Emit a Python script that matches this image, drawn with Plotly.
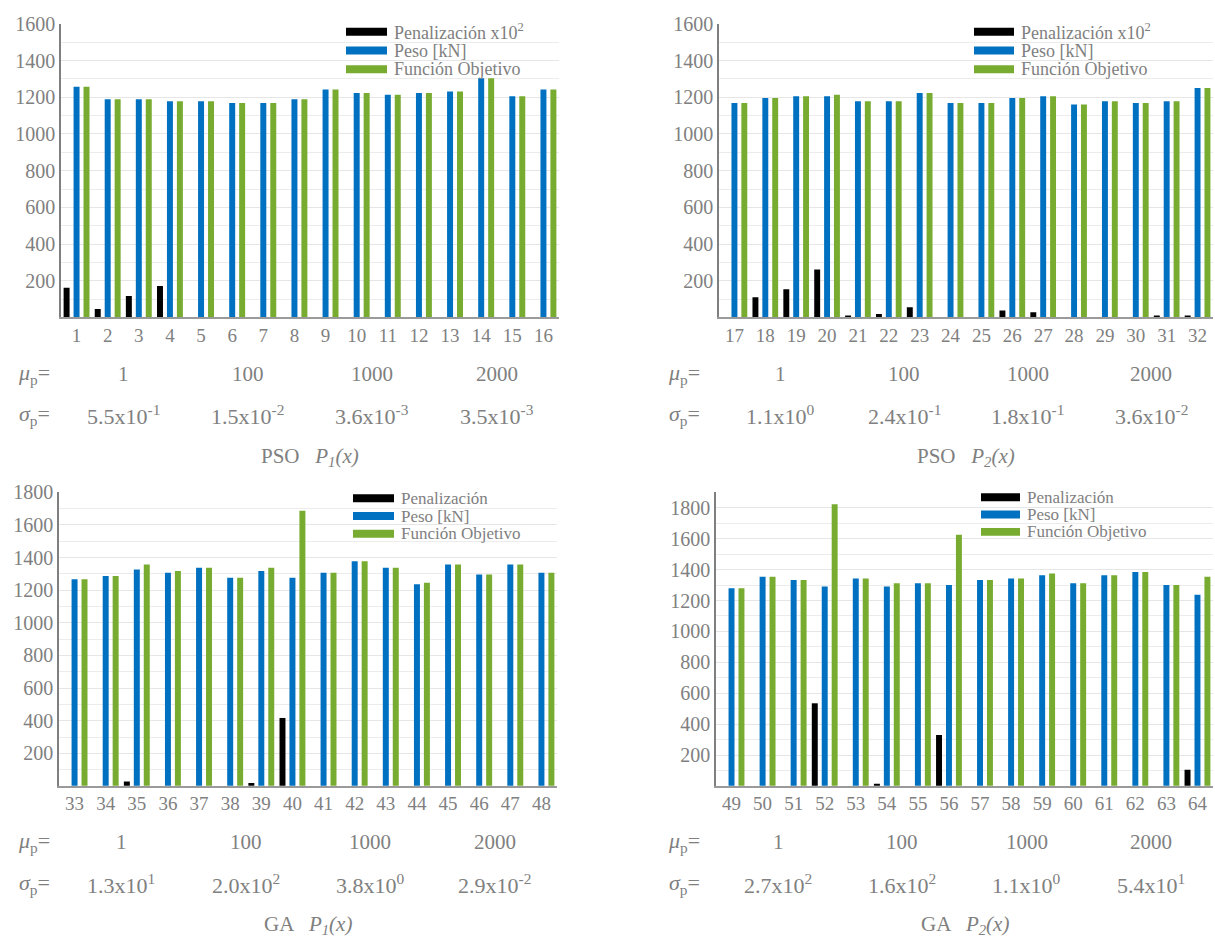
import plotly.graph_objects as go

# ---------------- data ----------------
cases_pso1 = list(range(1, 17))
cases_pso2 = list(range(17, 33))
cases_ga1 = list(range(33, 49))
cases_ga2 = list(range(49, 65))

pen_pso1 = [163, 47, 118, 172, 0, 0, 0, 0, 0, 0, 0, 0, 0, 0, 0, 0]
peso_pso1 = [1258, 1189, 1189, 1178, 1178, 1169, 1169, 1189, 1242, 1223, 1214, 1223, 1232, 1303, 1205, 1242]
fo_pso1 = [1258, 1189, 1189, 1178, 1178, 1169, 1169, 1189, 1242, 1223, 1214, 1223, 1232, 1303, 1205, 1242]

pen_pso2 = [0, 110, 154, 262, 11, 20, 56, 0, 0, 38, 29, 0, 0, 0, 11, 11]
peso_pso2 = [1169, 1196, 1205, 1205, 1178, 1178, 1223, 1169, 1169, 1196, 1205, 1160, 1178, 1169, 1178, 1250]
fo_pso2 = [1169, 1196, 1205, 1214, 1178, 1178, 1223, 1169, 1169, 1196, 1205, 1160, 1178, 1169, 1178, 1250]

pen_ga1 = [0, 0, 28, 0, 0, 0, 18, 417, 0, 0, 0, 0, 0, 0, 0, 0]
peso_ga1 = [1267, 1287, 1327, 1307, 1337, 1277, 1317, 1277, 1307, 1377, 1337, 1236, 1357, 1297, 1357, 1307]
fo_ga1 = [1267, 1287, 1357, 1317, 1337, 1277, 1337, 1687, 1307, 1377, 1337, 1246, 1357, 1297, 1357, 1307]

pen_ga2 = [0, 0, 0, 535, 0, 15, 0, 330, 0, 0, 0, 0, 0, 0, 0, 105]
peso_ga2 = [1280, 1354, 1333, 1291, 1343, 1291, 1312, 1301, 1333, 1343, 1364, 1312, 1364, 1385, 1301, 1238]
fo_ga2 = [1280, 1354, 1333, 1823, 1343, 1312, 1312, 1625, 1333, 1343, 1375, 1312, 1364, 1385, 1301, 1354]

mu_labels = ["1", "100", "1000", "2000"]
sigma_pso1 = ["5.5x10<sup>-1</sup>", "1.5x10<sup>-2</sup>", "3.6x10<sup>-3</sup>", "3.5x10<sup>-3</sup>"]
sigma_pso2 = ["1.1x10<sup>0</sup>", "2.4x10<sup>-1</sup>", "1.8x10<sup>-1</sup>", "3.6x10<sup>-2</sup>"]
sigma_ga1 = ["1.3x10<sup>1</sup>", "2.0x10<sup>2</sup>", "3.8x10<sup>0</sup>", "2.9x10<sup>-2</sup>"]
sigma_ga2 = ["2.7x10<sup>2</sup>", "1.6x10<sup>2</sup>", "1.1x10<sup>0</sup>", "5.4x10<sup>1</sup>"]

titles = ["PSO   <i>P<sub>1</sub>(x)</i>", "PSO   <i>P<sub>2</sub>(x)</i>",
          "GA   <i>P<sub>1</sub>(x)</i>", "GA   <i>P<sub>2</sub>(x)</i>"]
pen_names = ["Penalización x10<sup>2</sup>", "Penalización x10<sup>2</sup>", "Penalización", "Penalización"]
name_peso = "Peso [kN]"
name_fo = "Función Objetivo"
ymax = [1600, 1600, 1800, 1900]

# ---------------- style ----------------
W, H = 1215, 941
SERIF = "Liberation Serif, Times New Roman, serif"
GRAY = "#808080"
C_PEN = "#000000"
C_PESO = "#0070C0"
C_FO = "#77AC30"


def px(x):
    return x / W


def py(y):
    return 1 - y / H


# panel geometry in pixels: (left, right, top, bottom)
panels = [(61, 559, 13, 310), (719, 1213, 13, 310), (59, 557, 487, 784), (716, 1213, 487, 784)]
# legend: swatch left x, swatch right x, row centres y, font size
legend_geo = [(346, 387, [21, 40, 59], 18), (974, 1014, [21, 40, 59], 18),
              (353, 394, [493, 511, 529], 17), (981, 1020, [492, 509.5, 527], 17)]
label_left = [52, 702, 52, 702]

datasets = [
    (cases_pso1, pen_pso1, peso_pso1, fo_pso1, sigma_pso1),
    (cases_pso2, pen_pso2, peso_pso2, fo_pso2, sigma_pso2),
    (cases_ga1, pen_ga1, peso_ga1, fo_ga1, sigma_ga1),
    (cases_ga2, pen_ga2, peso_ga2, fo_ga2, sigma_ga2),
]

fig = go.Figure()
annotations = []
shapes = []
layout_axes = {}

for i, (cases, pen, peso, fo, sig) in enumerate(datasets):
    k = "" if i == 0 else str(i + 1)
    xa, ya = "x" + k, "y" + k
    series = [(pen, C_PEN, pen_names[i]), (peso, C_PESO, name_peso), (fo, C_FO, name_fo)]
    for vals, col, nm in series:
        fig.add_trace(go.Bar(x=cases, y=vals, marker=dict(color=col, line=dict(width=0)),
                             xaxis=xa, yaxis=ya, showlegend=False, name=nm))

    l, r, t, b = panels[i]
    layout_axes["xaxis" + k] = dict(
        domain=[px(l), px(r)], anchor=ya, range=[cases[0] - 0.5, cases[-1] + 0.5],
        tickmode="array", tickvals=cases, ticktext=[str(c) for c in cases],
        showgrid=False, zeroline=False, showline=True, linecolor="#9a9a9a", linewidth=1.5,
        ticks="", tickfont=dict(family=SERIF, size=19, color=GRAY), fixedrange=True,
    )
    layout_axes["yaxis" + k] = dict(
        domain=[py(b), py(t)], anchor=xa, range=[1, ymax[i]],
        tickmode="linear", tick0=0, dtick=200,
        showgrid=True, gridcolor="#e6e6e6", gridwidth=1, zeroline=False,
        minor=dict(dtick=100, showgrid=True, gridcolor="#ececec", gridwidth=1, ticks=""),
        showline=True, linecolor="#7f7f7f", linewidth=1.5, ticks="",
        tickfont=dict(family=SERIF, size=20, color=GRAY), fixedrange=True,
    )

    # legend drawn as swatches + text
    sx0, sx1, rows, fs = legend_geo[i]
    for (vals, col, nm), yy in zip(series, rows):
        shapes.append(dict(type="rect", xref="paper", yref="paper", x0=px(sx0), x1=px(sx1),
                           y0=py(yy + 4), y1=py(yy - 4), fillcolor=col, line=dict(width=0), layer="above"))
        annotations.append(dict(x=px(sx1 + 5), y=py(yy), xref="paper", yref="paper", text=nm,
                                showarrow=False, xanchor="left", yanchor="middle",
                                font=dict(family=SERIF, size=fs, color=GRAY)))

    # rows below the panel
    y_mu, y_sig, y_tit = b + 57, b + 99, b + 141
    centers = [cases[0] + 1.5 + 4 * g for g in range(4)]
    for g in range(4):
        annotations.append(dict(x=centers[g], y=py(y_mu), xref=xa, yref="paper", text=mu_labels[g],
                                showarrow=False, xanchor="center", yanchor="middle",
                                font=dict(family=SERIF, size=21, color=GRAY)))
        annotations.append(dict(x=centers[g], y=py(y_sig), xref=xa, yref="paper", text=sig[g],
                                showarrow=False, xanchor="center", yanchor="middle",
                                font=dict(family=SERIF, size=22, color=GRAY)))
    annotations.append(dict(x=px(label_left[i]), y=py(y_mu), xref="paper", yref="paper",
                            text="<i>μ</i><sub>p</sub>=", showarrow=False, xanchor="right", yanchor="middle",
                            font=dict(family=SERIF, size=22, color=GRAY)))
    annotations.append(dict(x=px(label_left[i]), y=py(y_sig), xref="paper", yref="paper",
                            text="<i>σ</i><sub>p</sub>=", showarrow=False, xanchor="right", yanchor="middle",
                            font=dict(family=SERIF, size=22, color=GRAY)))
    annotations.append(dict(x=px((l + r) / 2), y=py(y_tit), xref="paper", yref="paper", text=titles[i],
                            showarrow=False, xanchor="center", yanchor="middle",
                            font=dict(family=SERIF, size=21, color=GRAY)))

fig.update_layout(
    width=W, height=H, margin=dict(l=0, r=0, t=0, b=0),
    paper_bgcolor="white", plot_bgcolor="white", showlegend=False,
    barmode="group", bargap=0.04, bargroupgap=0.4,
    font=dict(family=SERIF, color=GRAY),
    annotations=annotations, shapes=shapes, **layout_axes,
)

fig.write_html("out.html", config={"displayModeBar": False},
               post_script="document.body.style.margin='0';document.body.style.overflow='hidden';")
